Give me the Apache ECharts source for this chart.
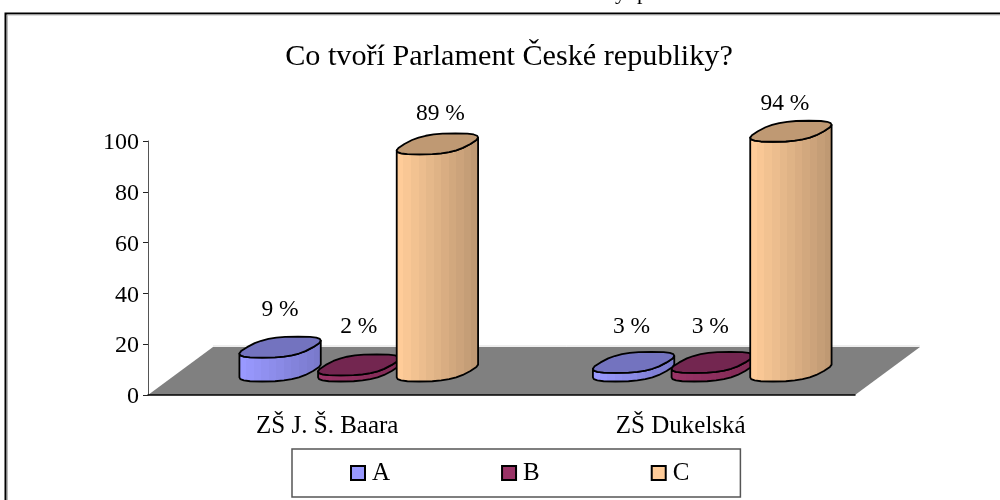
<!DOCTYPE html>
<html><head><meta charset="utf-8">
<style>html,body{margin:0;padding:0;background:#fff}#c{width:1000px;height:500px}</style>
<script src="https://cdn.jsdelivr.net/npm/echarts@6/dist/echarts.min.js"></script>
</head><body><div id="c"></div>
<script>
const titleText = 'Co tvoří Parlament České republiky?';
const categories = ['ZŠ J. Š. Baara', 'ZŠ Dukelská'];
const yTicks = [0, 20, 40, 60, 80, 100];
const seriesNames = ['A', 'B', 'C'];
const valuesA = [9, 3];
const valuesB = [2, 3];
const valuesC = [89, 94];

const FONT = '"Liberation Serif","Times New Roman",serif';
const DEPTH = [65, -48];
const palettes = [
  {face:'#9999FF', dark:[0x7A,0x7A,0xCC], light:[0x99,0x99,0xFF], top:'#7373BF'},
  {face:'#993366', dark:[0x80,0x2A,0x55], light:[0x99,0x33,0x66], top:'#732650'},
  {face:'#FFCC99', dark:[0xBF,0x99,0x73], light:[0xFF,0xCC,0x99], top:'#BF9973'}
];
function spow(v,p){return Math.sign(v)*Math.pow(Math.abs(v),p);}
function outline(cx,cy){
  const pts=[],n=24,rx=33,dx=18,dy=10.5,p=0.72;
  for(let i=0;i<n;i++){
    const t=Math.PI+2*Math.PI*i/n; // starts at the left and runs along the front (screen-lower) side
    const c=spow(Math.cos(t),p), s=spow(Math.sin(t),p);
    pts.push([cx+rx*c+dx*s, cy-dy*s]);
  }
  return pts;
}
function bands(pal){
  const stops=[],k=11;
  for(let i=0;i<k;i++){
    const f=i/(k-1);
    const col='rgb('+pal.light.map((v,j)=>Math.round(v+(pal.dark[j]-v)*f)).join(',')+')';
    stops.push({offset:i/k,color:col},{offset:(i+1)/k,color:col});
  }
  return new echarts.graphic.LinearGradient(0,0,1,0,stops);
}
function cylinder(si){
  return function(params,api){
    const cat=api.value(0), val=api.value(1);
    const band=api.size([1,0])[0];
    const spacing=band*0.2225;
    const base=api.coord([cat,0]), topP=api.coord([cat,val]);
    const cx=base[0]+DEPTH[0]/2+1.5+(si-1)*spacing;
    const by=base[1]+DEPTH[1]/2, ty=topP[1]+DEPTH[1]/2-1;
    const pal=palettes[si];
    const bot=outline(cx,by), top=outline(cx,ty);
    const n=bot.length;
    let iL=0,iR=0;
    bot.forEach((q,i)=>{ if(q[0]<bot[iL][0]) iL=i; if(q[0]>bot[iR][0]) iR=i; });
    if(iR<iL) iR+=n;
    const body=[];
    for(let i=iL;i<=iR;i++) body.push(bot[i%n]);
    for(let i=iR;i>=iL;i--) body.push(top[i%n]);
    const line={stroke:'#000',lineWidth:1.8,lineJoin:'round'};
    const labelY=ty-30-9*(1-val/100)+1+(cat===1?2:0);
    return {type:'group',children:[
      {type:'polygon',shape:{points:body},style:Object.assign({fill:bands(pal)},line)},
      {type:'polygon',shape:{points:top},style:Object.assign({fill:pal.top},line)},
      {type:'text',style:{text:val+' %',x:cx+(si===2?(cat===0?3:-6):0)-(cat===1&&si<2?2:0),y:labelY,align:'center',verticalAlign:'middle',font:'23.5px '+FONT,fill:'#000'}}
    ]};
  };
}
function floor(params,api){
  const band=api.size([1,0])[0];
  const a=api.coord([0,0]), b=api.coord([1,0]);
  const x0=a[0]-band/2, x1=b[0]+band/2, y=a[1];
  return {type:'group',children:[
    {type:'polygon',shape:{points:[[x0,y],[x1,y],[x1+DEPTH[0],y+DEPTH[1]],[x0+DEPTH[0],y+DEPTH[1]]]},style:{fill:'#808080'}},
    {type:'line',shape:{x1:x0+DEPTH[0],y1:y+DEPTH[1]-1,x2:x1+DEPTH[0],y2:y+DEPTH[1]-1},style:{stroke:'#ddd',lineWidth:1}}
  ]};
}
const chart=echarts.init(document.getElementById('c'),null,{renderer:'canvas'});
const allValues=[valuesA,valuesB,valuesC];
chart.setOption({
  animation:false,
  backgroundColor:'#fff',
  textStyle:{fontFamily:FONT},
  title:{text:titleText,left:504,top:37,textAlign:'center',textStyle:{fontFamily:FONT,fontSize:30.2,fontWeight:'normal',color:'#000'}},
  grid:{left:148,right:145,top:141,bottom:105},
  xAxis:{type:'category',data:categories,z:1,
    axisLine:{lineStyle:{color:'#000',width:1.5}},
    axisTick:{length:6,lineStyle:{color:'#333'}},
    axisLabel:{fontFamily:FONT,fontSize:25,color:'#000',margin:19,padding:[0,0,0,5]}},
  yAxis:{type:'value',min:0,max:100,interval:20,z:1,
    splitLine:{show:false},
    axisLine:{show:true,lineStyle:{color:'#555',width:1}},
    axisTick:{show:true,length:5,lineStyle:{color:'#222'}},
    axisLabel:{fontFamily:FONT,fontSize:24,color:'#000',margin:9,verticalAlign:'top',padding:[-10,0,0,0],formatter:v=>yTicks.includes(v)?String(v):''}},
  legend:{show:true,left:292,top:449,orient:'horizontal',
    data:seriesNames.map(n=>({name:n,icon:'rect'})),
    itemWidth:14,itemHeight:14,itemGap:111,
    padding:[11.5,51,11.5,58],
    borderColor:'#555',borderWidth:1.5,backgroundColor:'#fff',
    textStyle:{fontFamily:FONT,fontSize:25,color:'#000',padding:[0,0,0,2]}},
  graphic:[
    {type:'rect',silent:true,z:-1,shape:{x:5.5,y:13.5,width:1200,height:800},style:{fill:'none',stroke:'#000',lineWidth:2}},
    {type:'rect',silent:true,z:-1,shape:{x:7.5,y:15,width:1200,height:800},style:{fill:'none',stroke:'#bbb',lineWidth:1}},
    {type:'text',silent:true,z:-1,style:{text:'y  p',x:615,y:4,verticalAlign:'bottom',font:'22px '+FONT,fill:'#000'}}
  ],
  series:[
    {type:'custom',z:0,silent:true,renderItem:floor,data:[[0,0]],encode:{x:0,y:1},clip:false},
    ...seriesNames.map((n,si)=>({
      name:n,type:'custom',z:2+si,renderItem:cylinder(si),clip:false,
      encode:{x:0,y:1},
      itemStyle:{color:palettes[si].face,borderColor:'#000',borderWidth:1.5},
      data:allValues[si].map((v,i)=>[i,v])
    }))
  ]
});
</script></body></html>
